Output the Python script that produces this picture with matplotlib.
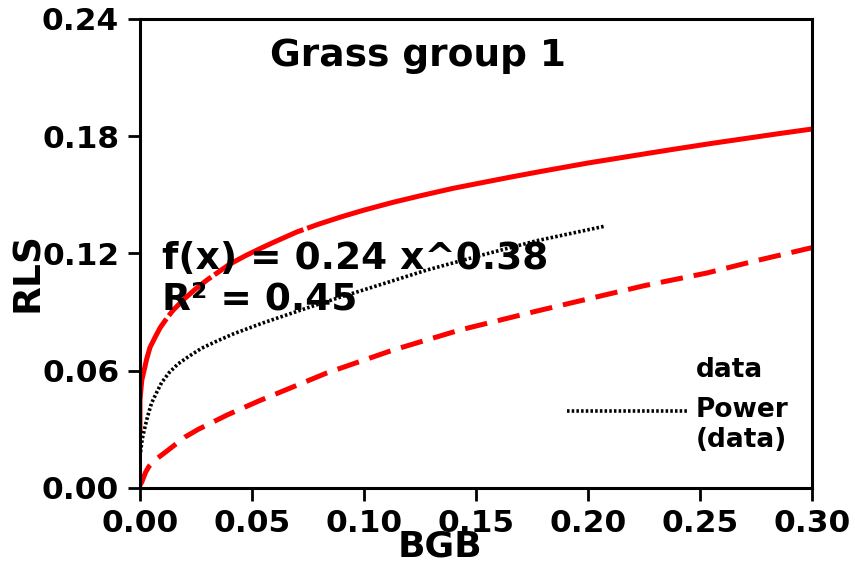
#!/usr/bin/env python3
"""RLS vs BGB power fit with confidence band, grass group 1."""

import matplotlib

matplotlib.use("Agg")
import matplotlib.pyplot as plt
import numpy as np
from matplotlib.legend_handler import HandlerLine2D
from matplotlib.lines import Line2D

# values
fit_x = [0.0, 0.001, 0.0022, 0.0035, 0.0052, 0.0075, 0.0097, 0.013, 0.017,
         0.022, 0.0275, 0.034, 0.042, 0.055, 0.073, 0.089, 0.103, 0.128,
         0.152, 0.177, 0.2076]
fit_y = [0.016, 0.025, 0.031, 0.037, 0.0435, 0.049, 0.054, 0.059, 0.0635,
         0.0675, 0.0715, 0.075, 0.079, 0.0845, 0.0915, 0.0975, 0.1025, 0.1115,
         0.119, 0.1265, 0.134]

upper_x = [0.0, 0.0, 0.0008, 0.003, 0.0045, 0.0067, 0.009, 0.0125, 0.015, 0.020,
           0.025, 0.030, 0.040, 0.047, 0.0536, 0.060, 0.070, 0.080, 0.090,
           0.100, 0.113, 0.125, 0.140, 0.165, 0.180, 0.200, 0.220, 0.238,
           0.255, 0.270, 0.285, 0.300]
upper_y = [0.028, 0.045, 0.055, 0.066, 0.072, 0.077, 0.082, 0.0877, 0.0912, 0.097,
           0.102, 0.1065, 0.1145, 0.1188, 0.1225, 0.1259, 0.131, 0.1351, 0.1388,
           0.1422, 0.1462, 0.1495, 0.1534, 0.159, 0.1622, 0.1663, 0.170, 0.1733,
           0.1763, 0.1788, 0.1813, 0.1837]

lower_x = [0.0, 0.0008, 0.0025, 0.004, 0.0067, 0.011, 0.020, 0.026, 0.039,
           0.053, 0.0835, 0.113, 0.143, 0.177, 0.201, 0.225, 0.253, 0.275,
           0.300]
lower_y = [0.0015, 0.0030, 0.008, 0.011, 0.0143, 0.018, 0.026, 0.030, 0.0374,
           0.0445, 0.0589, 0.0706, 0.0809, 0.0905, 0.097, 0.1035, 0.110,
           0.1163, 0.123]

x_ticks = [0.0, 0.05, 0.10, 0.15, 0.20, 0.25, 0.30]
y_ticks = [0.0, 0.06, 0.12, 0.18, 0.24]


class TopLineHandler(HandlerLine2D):
    # put the legend line next to the first line of a two-line label
    def create_artists(self, legend, orig_handle, xdescent, ydescent,
                       width, height, fontsize, trans):
        arts = super().create_artists(legend, orig_handle, xdescent, ydescent,
                                      width, height, fontsize, trans)
        for a in arts:
            a.set_ydata(np.asarray(a.get_ydata()) + 0.55 * fontsize)
        return arts


plt.rcParams["font.family"] = "DejaVu Sans"
plt.rcParams["font.weight"] = "bold"

fig = plt.figure(figsize=(8.55, 5.62), dpi=100)
ax = fig.add_axes([0.1637, 0.1317, 0.786, 0.8345])

dotted = (0, (0.7, 0.6))
ax.plot(upper_x, upper_y, color="#ff0000", lw=3.6, solid_capstyle="butt",
        linestyle=(0, (24, 0.8, 11.5, 0.8, 20, 0.8, 300, 0.8)))
ax.plot(lower_x, lower_y, color="#ff0000", lw=3.6, linestyle=(0, (4.5, 2.2)))
ax.plot(fit_x, fit_y, color="black", lw=2.6, linestyle=dotted)

ax.set_xlim(0, 0.30)
ax.set_ylim(0, 0.24)
ax.set_xticks(x_ticks)
ax.set_xticklabels([f"{v:.2f}" for v in x_ticks])
ax.set_yticks(y_ticks)
ax.set_yticklabels([f"{v:.2f}" for v in y_ticks])
ax.tick_params(labelsize=22.5, length=9, width=2, pad=6)
for s in ax.spines.values():
    s.set_linewidth(2.2)

ax.set_xlabel("BGB", fontsize=26, fontweight="bold")
ax.xaxis.set_label_coords(0.446, -0.088)
ax.set_ylabel("RLS", fontsize=27, fontweight="bold")
ax.yaxis.set_label_coords(-0.14, 0.46)

ax.text(0.414, 0.921, "Grass group 1", transform=ax.transAxes,
        fontsize=27, fontweight="bold", ha="center", va="center")
ax.text(0.033, 0.4456, "f(x) = 0.24 x^0.38\nR² = 0.45", transform=ax.transAxes,
        fontsize=27, fontweight="bold", ha="left", va="center",
        linespacing=1.15)

handles = [
    Line2D([], [], linestyle="none"),
    Line2D([], [], color="black", lw=2.6, linestyle=dotted),
]
ax.legend(handles, ["data", "Power\n(data)"], loc="lower right",
          bbox_to_anchor=(1.0, 0.025), frameon=False,
          prop={"size": 19, "weight": "bold"}, handlelength=4.6,
          handletextpad=0.27, labelspacing=0.5,
          handler_map={handles[1]: TopLineHandler()})

fig.savefig("out.png", dpi=100)
